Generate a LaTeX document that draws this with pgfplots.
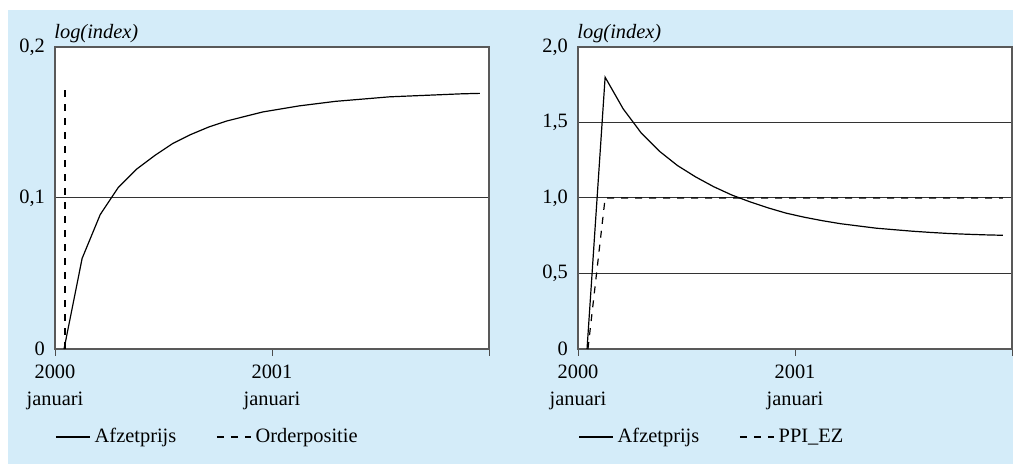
\documentclass[border=0pt]{standalone}
\usepackage{fontspec}
\setmainfont{Liberation Serif}
\usepackage{pgfplots}
\pgfplotsset{compat=1.18}
\definecolor{bgblue}{RGB}{212,236,249}
\begin{document}
\fontsize{10.2}{12}\selectfont
\begin{tikzpicture}[font=\fontsize{10.2}{12}\selectfont]
\useasboundingbox (0,0) rectangle (506.5pt,-232pt);
\fill[white] (0,0) rectangle (506.5pt,-232pt);
\fill[bgblue] (4pt,-5pt) rectangle (506.5pt,-232pt);
\pgfplotsset{myax/.style={
  scale only axis, width=217pt, height=151pt,
  xmin=0, xmax=24, xtick={0,12,24},
  xticklabels={{2000\\januari},{2001\\januari},{}},
  xticklabel style={align=center, font=\fontsize{10.2}{13.2}\selectfont, yshift=-1pt},
  tick align=outside, xtick pos=bottom, ytick pos=left,
  major tick length=3.5pt,
  ytick style={draw=none},
  xtick style={black!70, line width=0.5pt},
  yticklabel style={xshift=2pt},
  axis line style={black!65, line width=0.6pt},
  ymajorgrids, grid style={black!80, line width=0.5pt},
  axis background/.style={fill=white},
  clip=false,
  legend style={draw=none, fill=none, at={(0,-0.2914)}, anchor=west,
    inner sep=0pt, /tikz/every even column/.append style={column sep=18pt}},
  legend columns=2, legend cell align=left,
  every axis plot/.append style={black, line width=0.6pt},
}}
\begin{axis}[myax, at={(27.5pt,-174.5pt)}, anchor=south west,
  ymin=0, ymax=0.2, ytick={0,0.1,0.2}, yticklabels={0,{0,1},{0,2}}]
\addplot[solid] coordinates {(0.5,0) (1.5,0.060) (2.5,0.089) (3.5,0.107) (4.5,0.119) (5.5,0.128) (6.5,0.136) (7.5,0.142) (8.5,0.147) (9.5,0.151) (10.5,0.154) (11.5,0.157) (12.5,0.159) (13.5,0.161) (14.5,0.1625) (15.5,0.164) (16.5,0.165) (17.5,0.166) (18.5,0.167) (19.5,0.1675) (20.5,0.168) (21.5,0.1685) (22.5,0.169) (23.5,0.1693)};
\addlegendentry{Afzetprijs}
\addplot[dash pattern=on 3.5pt off 3.5pt] coordinates {(0.55,0) (0.55,0.172)};
\addlegendentry{Orderpositie}
\node[anchor=base west, inner sep=0pt, font=\itshape\fontsize{10.2}{12}\selectfont] at (rel axis cs:0,1) [yshift=4pt, xshift=-0.5pt] {log(index)};
\end{axis}
\begin{axis}[myax, at={(289pt,-174.5pt)}, anchor=south west,
  ymin=0, ymax=2, ytick={0,0.5,1,1.5,2}, yticklabels={0,{0,5},{1,0},{1,5},{2,0}}]
\addplot[solid] coordinates {(0.5,0) (1.5,1.80) (2.5,1.59) (3.5,1.43) (4.5,1.31) (5.5,1.215) (6.5,1.14) (7.5,1.075) (8.5,1.02) (9.5,0.975) (10.5,0.935) (11.5,0.90) (12.5,0.873) (13.5,0.85) (14.5,0.83) (15.5,0.815) (16.5,0.80) (17.5,0.79) (18.5,0.78) (19.5,0.772) (20.5,0.765) (21.5,0.76) (22.5,0.756) (23.5,0.753)};
\addlegendentry{Afzetprijs}
\addplot[dash pattern=on 3.5pt off 3.5pt] coordinates {(0.55,0) (1.5,1) (23.5,1)};
\addlegendentry{PPI\_EZ}
\node[anchor=base west, inner sep=0pt, font=\itshape\fontsize{10.2}{12}\selectfont] at (rel axis cs:0,1) [yshift=4pt, xshift=-0.5pt] {log(index)};
\end{axis}
\end{tikzpicture}
\end{document}
